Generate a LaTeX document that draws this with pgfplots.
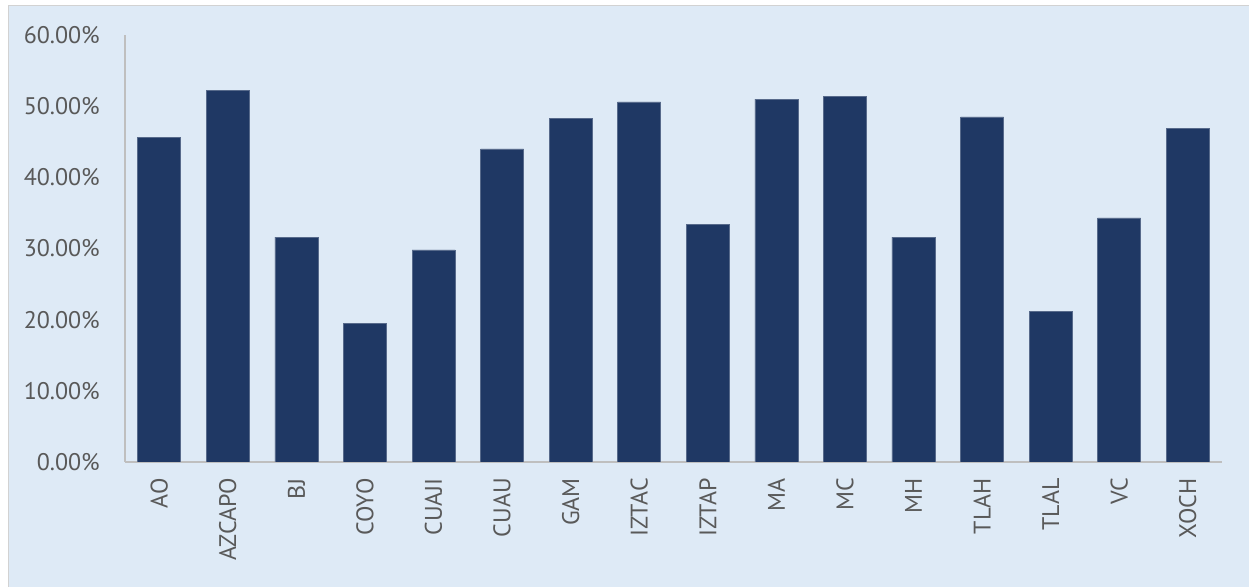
\documentclass[border=0pt]{standalone}
\usepackage{pgfplots}
\pgfplotsset{compat=1.18}
\usepackage{fontspec}
\setmainfont{PT Sans}
\definecolor{bg}{HTML}{DEEAF6}
\definecolor{barblue}{HTML}{1F3864}
\definecolor{txt}{HTML}{595959}
\definecolor{axgray}{HTML}{BFBFBF}
\begin{document}
\begin{tikzpicture}[x=1pt,y=1pt]
\useasboundingbox (0,0) rectangle (1249,586);
\fill[white] (0,0) rectangle (1249,586);
\filldraw[fill=bg,draw=axgray!70] (8,-6) rectangle (1260,581);
\begin{axis}[
    at={(125pt,124pt)}, anchor=south west,
    scale only axis, width=1097pt, height=427pt,
    ybar, bar width=43pt,
    xmin=-0.5, xmax=15.5, ymin=0, ymax=60,
    axis x line*=bottom, axis y line*=left,
    axis line style={axgray, line width=1.5pt, -},
    major tick length=0pt,
    ytick={0,10,...,60},
    yticklabel={\pgfmathprintnumber[fixed,fixed zerofill,precision=2]{\tick}\%},
    /pgf/number format/assume math mode=true,
    xtick=data,
    xticklabels={AO,AZCAPO,BJ,COYO,CUAJI,CUAU,GAM,IZTAC,IZTAP,MA,MC,MH,TLAH,TLAL,VC,XOCH},
    tick label style={font=\fontsize{24}{28}\selectfont, text=txt, inner sep=0pt},
    yticklabel style={anchor=east, xshift=-25pt},
    xticklabel style={yshift=-16pt, rotate=90, anchor=east},
]
\addplot[fill=barblue, draw=barblue!75!white, line width=0.6pt] coordinates {
    (0,45.6) (1,52.2) (2,31.6) (3,19.5) (4,29.8) (5,44.0) (6,48.3) (7,50.6)
    (8,33.4) (9,51.0) (10,51.4) (11,31.6) (12,48.5) (13,21.2) (14,34.3) (15,46.9)
};
\end{axis}
\end{tikzpicture}
\end{document}
